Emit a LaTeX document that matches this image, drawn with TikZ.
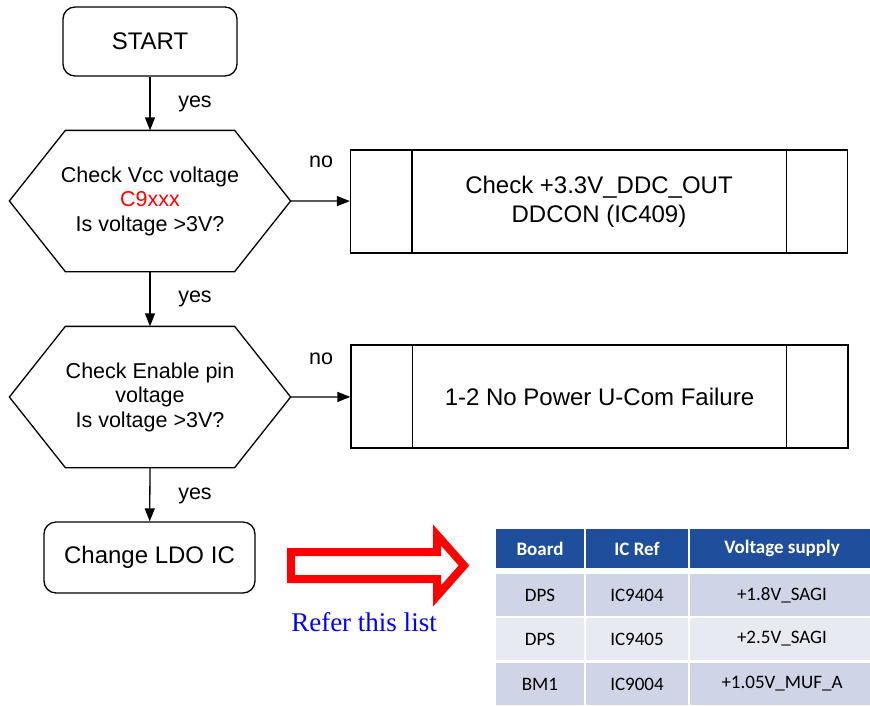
\documentclass[tikz,border=0pt]{standalone}
\usepackage{fontspec}
\setmainfont{Liberation Sans}
\newfontfamily\tabfont{Carlito}
\newfontfamily\serfont{Liberation Serif}
\usetikzlibrary{arrows.meta}
\definecolor{hdblue}{RGB}{31,79,156}
\definecolor{rowdark}{RGB}{207,213,230}
\definecolor{rowlight}{RGB}{232,234,242}
\tikzset{
    flowtext/.style={font=\fontsize{21.5}{24.5}\selectfont, align=center},
    bigtext/.style={font=\fontsize{24}{29}\selectfont, align=center},
    startbox/.style={bigtext, draw, rounded corners=12, minimum width=174, minimum height=69},
    hexbox/.style={flowtext, minimum width=280, minimum height=140},
    procbox/.style={bigtext, draw, minimum width=497, minimum height=103},
    flowarrow/.style={-{Triangle[length=13,width=10]}},
    cell/.style={draw=white, line width=2, inner sep=0, font=\tabfont\fontsize{19}{21}\selectfont},
    headcell/.style={cell, fill=hdblue, text=white, font=\tabfont\bfseries\fontsize{19}{21}\selectfont, minimum height=41},
}
\newcommand\hexline[1]{\draw (#1.west) -- ([xshift=56]#1.north west) -- ([xshift=-56]#1.north east)
    -- (#1.east) -- ([xshift=-56]#1.south east) -- ([xshift=56]#1.south west) -- cycle;}
\newcommand\sidebars[1]{\draw ([xshift=62]#1.north west) -- ([xshift=62]#1.south west);
    \draw ([xshift=-62]#1.north east) -- ([xshift=-62]#1.south east);}
\begin{document}
\begin{tikzpicture}[x=1pt, y=-1pt, line width=1.3]
        \useasboundingbox (0,0) rectangle (870,705);
        \node[startbox] (start) at (150,41.5) {START};
        \node[hexbox] (vcc) at (150,201) {Check Vcc voltage\\\textcolor{red}{C9xxx}\\Is voltage >3V?};
        \hexline{vcc}
        \node[procbox] (ddc) at (599,201.5) {Check +3.3V\_DDC\_OUT\\DDCON (IC409)};
        \sidebars{ddc}
        \node[hexbox] (enable) at (150,397) {Check Enable pin\\voltage\\Is voltage >3V?};
        \hexline{enable}
        \node[procbox] (ucom) at (599.5,396.5) {1-2 No Power U-Com Failure};
        \sidebars{ucom}
        \node[startbox, minimum width=211, minimum height=71] (ldo) at (149.5,557.5) {Change LDO IC};
        \draw[flowarrow] (start) -- (vcc.north);
        \draw[flowarrow] (vcc.south) -- (enable.north);
        \draw[flowarrow] (enable.south) -- (ldo);
        \draw[flowarrow] (vcc.east) -- (ddc);
        \draw[flowarrow] (enable.east) -- (ucom);
        \node[flowtext] (yes1) at (195,104) {yes};
        \node[flowtext] (yes2) at (195,299) {yes};
        \node[flowtext] (yes3) at (195,496) {yes};
        \node[flowtext] (no1) at (321,162) {no};
        \node[flowtext] (no2) at (321,359) {no};
        \draw[red, line width=8, miter limit=10] (291,552) -- (437,552) -- (437,535) -- (464,565.5)
            -- (437,596) -- (437,579) -- (291,579) -- cycle;
        \node[font=\serfont\fontsize{27}{29}\selectfont, text=blue] (refer) at (364,622) {Refer this list};
        \node[headcell, minimum width=90] (hboard) at (540,548.5) {Board};
        \node[headcell, minimum width=104] (hicref) at (637,548.5) {IC Ref};
        \node[headcell, minimum width=186] (hsupply) at (782,548.5) {Voltage supply};
        \node[cell, fill=rowdark, minimum width=90, minimum height=44] (b1) at (540,595) {DPS};
        \node[cell, fill=rowdark, minimum width=104, minimum height=44] (r1) at (637,595) {IC9404};
        \node[cell, fill=rowdark, minimum width=186, minimum height=44] (s1) at (782,595) {+1.8V\_SAGI};
        \node[cell, fill=rowlight, minimum width=90, minimum height=44] (b2) at (540,639) {DPS};
        \node[cell, fill=rowlight, minimum width=104, minimum height=44] (r2) at (637,639) {IC9405};
        \node[cell, fill=rowlight, minimum width=186, minimum height=44] (s2) at (782,639) {+2.5V\_SAGI};
        \node[cell, fill=rowdark, minimum width=90, minimum height=44] (b3) at (540,684) {BM1};
        \node[cell, fill=rowdark, minimum width=104, minimum height=44] (r3) at (637,684) {IC9004};
        \node[cell, fill=rowdark, minimum width=186, minimum height=44] (s3) at (782,684) {+1.05V\_MUF\_A};
    \end{tikzpicture}
\end{document}
